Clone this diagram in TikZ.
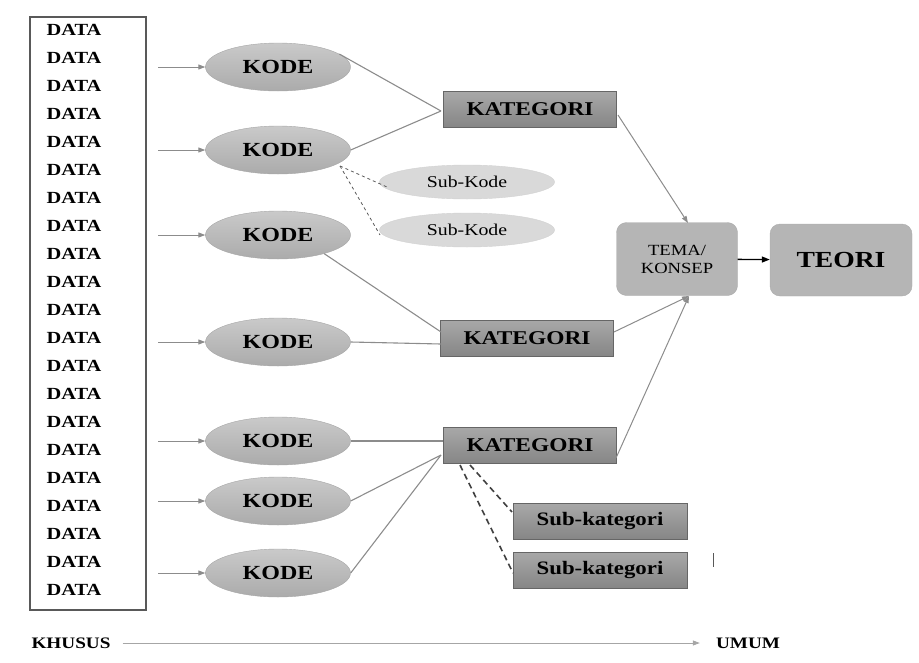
\documentclass[tikz,border=0pt]{standalone}
\usepackage{fontspec}
\setmainfont[FakeStretch=1.2]{Liberation Serif}
\usetikzlibrary{shapes.geometric,arrows.meta}
\definecolor{lnk}{HTML}{8C8C8C}
\tikzset{
  kode/.style={ellipse,draw=gray!70,top color=gray!42,bottom color=gray!66,minimum width=145pt,minimum height=48pt,inner sep=0pt,font=\fontsize{20}{22}\selectfont\bfseries},
  subkode/.style={ellipse,draw=gray!35,fill=gray!30,minimum width=175pt,minimum height=34pt,inner sep=0pt,font=\fontsize{16.5}{18}\selectfont},
  kat/.style={rectangle,draw=gray!80!black,top color=gray!68,bottom color=gray!95,minimum width=173pt,minimum height=36pt,inner sep=0pt,font=\fontsize{19.5}{21}\selectfont\bfseries},
  subkat/.style={rectangle,draw=gray!80!black,top color=gray!68,bottom color=gray!95,minimum width=174pt,minimum height=36pt,inner sep=0pt,font=\fontsize{19}{21}\selectfont\bfseries},
  tema/.style={rectangle,rounded corners=10pt,draw=gray!65,fill=gray!58,minimum width=121pt,minimum height=73pt,inner sep=0pt,align=center,font=\fontsize{15.5}{18}\selectfont},
  teori/.style={rectangle,rounded corners=10pt,draw=gray!65,fill=gray!58,minimum width=142pt,minimum height=72pt,inner sep=0pt,font=\fontsize{23}{25}\selectfont\bfseries},
  datatxt/.style={font=\fontsize{17}{19}\selectfont\bfseries,inner sep=0pt},
  feed/.style={draw=lnk,line width=1pt,-{Triangle[length=7pt,width=5pt]}},
  link/.style={draw=lnk,line width=1.1pt},
  dashk/.style={draw=gray!70!black,dashed,line width=0.8pt},
  dashc/.style={draw=gray!50!black,line width=1.6pt,dash pattern=on 6pt off 4pt},
  axis/.style={font=\fontsize{16}{18}\selectfont\bfseries,inner sep=0pt}
}
\begin{document}
\begin{tikzpicture}[x=1pt,y=-1pt]
\path[use as bounding box] (0,0) rectangle (919,662);
% data box
\node[draw=gray!70!black,line width=1.2pt,minimum width=116pt,minimum height=593pt,inner sep=0pt] (box) at (88,313.5) {};
\foreach \i in {0,...,20}{
  \node[datatxt] (d\i) at (74,{30+28*\i}) {DATA};
}
% KODE
\node[kode] (k1) at (278,67) {KODE};
\node[kode] (k2) at (278,150) {KODE};
\node[kode] (k3) at (278,235) {KODE};
\node[kode] (k4) at (278,342) {KODE};
\node[kode] (k5) at (278,441) {KODE};
\node[kode] (k6) at (278,501) {KODE};
\node[kode] (k7) at (278,573) {KODE};
\foreach \n/\y in {1/67,2/150,3/235,4/342,5/441,6/501,7/573}{
  \coordinate (a\n) at (158,\y);
  \draw[feed] (a\n) -- (k\n);
}
% sub-kode
\node[subkode] (sk1) at (467,182) {Sub-Kode};
\node[subkode] (sk2) at (467,230) {Sub-Kode};
\coordinate (skd) at (340,166);
\coordinate (sk1w) at (387,187);
\coordinate (sk2w) at (380,235);
\draw[dashk] (skd) -- (sk1w);
\draw[dashk] (skd) -- (sk2w);
% KATEGORI
\node[kat] (c1) at (530,109) {KATEGORI};
\node[kat] (c2) at (527,338) {KATEGORI};
\node[kat] (c3) at (530,445) {KATEGORI};
\coordinate (c1w) at (441,111);
\coordinate (c2a) at (441,332);
\coordinate (c2b) at (441,344);
\coordinate (c3a) at (443,441);
\coordinate (c3b) at (441,455);
\draw[link] (k1.12) -- (c1w);
\draw[link] (k2.east) -- (c1w);
\draw[link] (k3.-22) -- (c2a);
\draw[link] (k4.east) -- (c2b);
\draw[link] (k5.east) -- (c3a);
\draw[link] (k6.east) -- (c3b);
\draw[link] (k7.east) -- (c3b);
% sub-kategori
\node[subkat] (sc1) at (600,521) {Sub-kategori};
\node[subkat] (sc2) at (600,570) {Sub-kategori};
\coordinate (c3d1) at (470,465);
\coordinate (c3d2) at (460,465);
\coordinate (sc1w) at (512,512);
\coordinate (sc2w) at (513,573);
\draw[dashc] (c3d1) -- (sc1w);
\draw[dashc] (c3d2) -- (sc2w);
% TEMA / TEORI
\node[tema] (tm) at (677,259) {TEMA/\\KONSEP};
\node[teori] (te) at (841,260) {TEORI};
\coordinate (c1e) at (618,115);
\coordinate (c2e) at (614,332);
\coordinate (c3e) at (616,458);
\coordinate (tmt) at (688,223);
\coordinate (tmb) at (689,296);
\draw[feed] (c1e) -- (tmt);
\draw[feed] (c2e) -- (tmb);
\draw[feed] (c3e) -- (tmb);
\draw[line width=1.3pt,-{Triangle[length=8pt,width=6pt]}] (tm) -- (te);
% stray mark
\coordinate (m1) at (713,553);
\coordinate (m2) at (713,567);
\draw[line width=1pt,gray!70!black] (m1) -- (m2);
% axis
\node[axis] (kh) at (71,643) {KHUSUS};
\node[axis] (um) at (748,643) {UMUM};
\draw[draw=gray!70,line width=0.8pt,shorten <=12pt,shorten >=16pt,-{Triangle[length=7pt,width=5pt]}] (kh) -- (um);
\end{tikzpicture}
\end{document}
